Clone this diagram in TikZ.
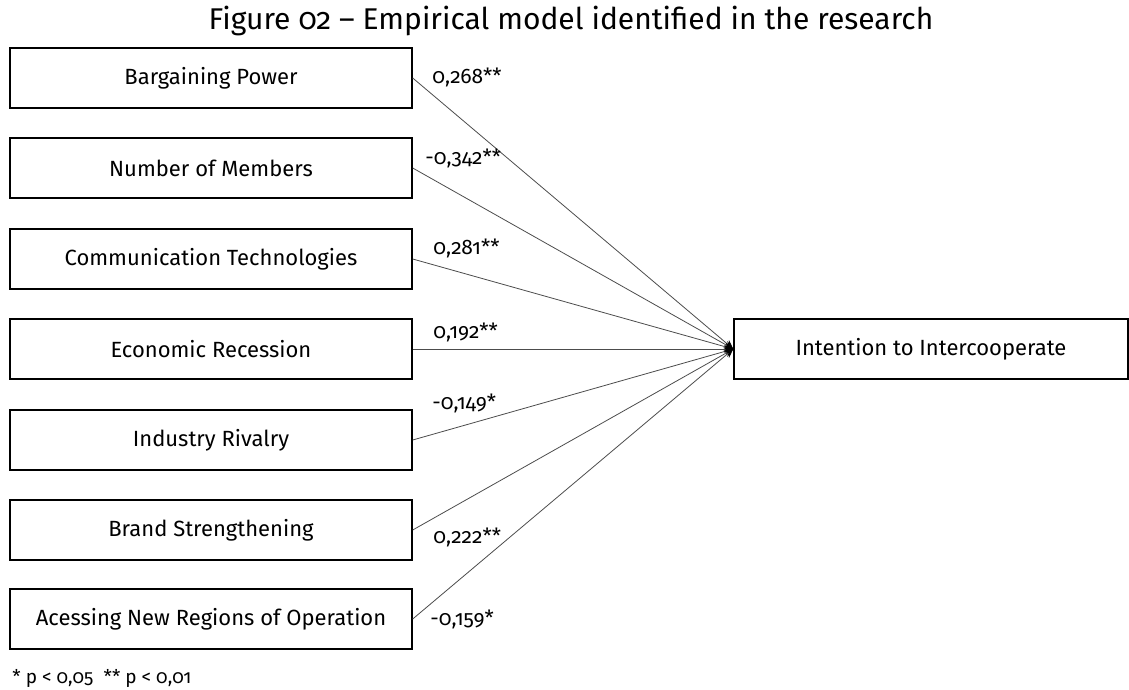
\documentclass[tikz,border=0pt]{standalone}
\usepackage{fontspec}
\setmainfont{Fira Sans}[Numbers=OldStyle]
\usetikzlibrary{arrows.meta}

\begin{document}
\begin{tikzpicture}[x=0.5pt,y=-0.5pt,
    construct/.style={draw=black,line width=0.7pt,minimum width=201pt,minimum height=30pt,inner sep=0pt,font=\fontsize{11}{13}\selectfont},
    path_coef/.style={draw=black!70,line width=0.4pt,-{Stealth[length=4.5pt,width=4pt,black]}},
    coef/.style={anchor=west,inner sep=0pt,font=\fontsize{10.5}{12}\selectfont}]
    \useasboundingbox (0,0) rectangle (1129,690);
    \node[font=\fontsize{15}{17}\selectfont] (title) at (571,21) {Figure 02 – Empirical model identified in the research};
    % predictors
    \node[construct] (bp) at (211,78) {Bargaining Power};
    \node[construct] (nm) at (211,168) {Number of Members};
    \node[construct] (ct) at (211,259) {Communication Technologies};
    \node[construct] (er) at (211,349) {Economic Recession};
    \node[construct] (ir) at (211,440) {Industry Rivalry};
    \node[construct] (bs) at (211,530) {Brand Strengthening};
    \node[construct] (an) at (211,619) {Acessing New Regions of Operation};
    % outcome
    \node[construct,minimum width=197pt] (ii) at (931,349) {Intention to Intercooperate};
    \draw[path_coef] (bp.east)--(ii.west);
    \draw[path_coef] (nm.east)--(ii.west);
    \draw[path_coef] (ct.east)--(ii.west);
    \draw[path_coef] (er.east)--(ii.west);
    \draw[path_coef] (ir.east)--(ii.west);
    \draw[path_coef] (bs.east)--(ii.west);
    \draw[path_coef] (an.east)--(ii.west);
    \node[coef] (c_bp) at (432,77) {0,268**};
    \node[coef] (c_nm) at (425,158) {-0,342**};
    \node[coef] (c_ct) at (433,248) {0,281**};
    \node[coef] (c_er) at (433,332) {0,192**};
    \node[coef] (c_ir) at (432,403) {-0,149*};
    \node[coef] (c_bs) at (433,537) {0,222**};
    \node[coef] (c_an) at (430,619) {-0,159*};
    \node[coef,font=\fontsize{9.5}{11}\selectfont] (note) at (12,678) {* p < 0,05\ \ ** p < 0,01};
\end{tikzpicture}
\end{document}
